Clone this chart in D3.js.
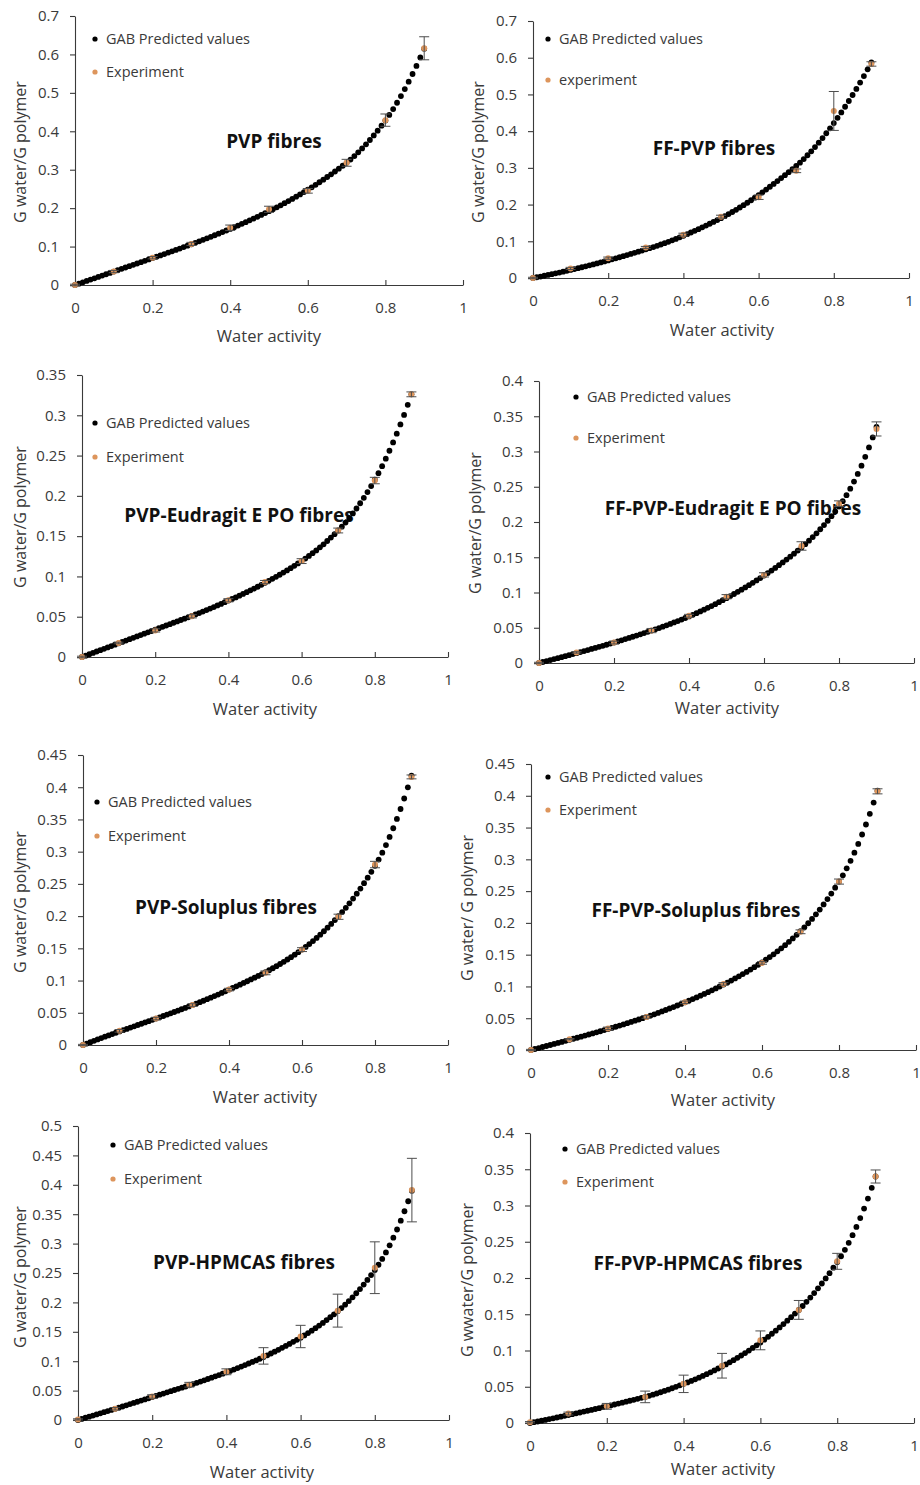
<!DOCTYPE html>
<html><head><meta charset="utf-8">
<script src="https://cdn.jsdelivr.net/npm/d3@7"></script>
<style>
body{margin:0;background:#fff}
svg{display:block}
text{font-family:"Open Sans",sans-serif}
</style>
</head><body>
<svg id="chart" width="920" height="1485"></svg>
<script>
// ---------- DATA ----------
const awGrid = [0,0.01,0.02,0.03,0.04,0.05,0.06,0.07,0.08,0.09,
0.1,0.11,0.12,0.13,0.14,0.15,0.16,0.17,0.18,0.19,
0.2,0.21,0.22,0.23,0.24,0.25,0.26,0.27,0.28,0.29,
0.3,0.31,0.32,0.33,0.34,0.35,0.36,0.37,0.38,0.39,
0.4,0.41,0.42,0.43,0.44,0.45,0.46,0.47,0.48,0.49,
0.5,0.51,0.52,0.53,0.54,0.55,0.56,0.57,0.58,0.59,
0.6,0.61,0.62,0.63,0.64,0.65,0.66,0.67,0.68,0.69,
0.7,0.71,0.72,0.73,0.74,0.75,0.76,0.77,0.78,0.79,
0.8,0.81,0.82,0.83,0.84,0.85,0.86,0.87,0.88,0.89,
0.9];
const awExp = [0,0.1,0.2,0.3,0.4,0.5,0.6,0.7,0.8,0.9];

const xTicks = [0,0.2,0.4,0.6,0.8,1];

// PVP fibres
const pvpPred = [0,0.0035,0.007,0.0105,0.014,0.0175,0.021,0.0245,0.028,0.0315,
0.035,0.0385,0.042,0.0455,0.049,0.0525,0.056,0.0595,0.063,0.0665,
0.070,0.0735,0.077,0.0805,0.0841,0.0877,0.0913,0.0949,0.0986,0.1023,
0.106,0.1098,0.1136,0.1175,0.1214,0.1254,0.1294,0.1335,0.1376,0.1418,
0.146,0.1503,0.1547,0.1591,0.1636,0.1682,0.1728,0.1775,0.1823,0.1871,
0.192,0.197,0.2021,0.2074,0.2128,0.2183,0.224,0.2298,0.2357,0.2418,
0.248,0.2543,0.2608,0.2674,0.2741,0.2811,0.2881,0.2954,0.3028,0.3103,
0.318,0.3265,0.3356,0.3452,0.3553,0.3661,0.3773,0.3892,0.4015,0.4145,
0.428,0.4425,0.4579,0.4743,0.4916,0.5098,0.529,0.5491,0.5701,0.5921,
0.615];
const pvpExp = [0,0.035,0.071,0.107,0.149,0.197,0.245,0.318,0.429,0.616];
const pvpErr = [0.002,0.003,0.003,0.004,0.007,0.008,0.006,0.009,0.016,0.03];
const pvpTicks = [0,0.1,0.2,0.3,0.4,0.5,0.6,0.7];

// FF-PVP fibres
const ffPvpPred = [0,0.002,0.004,0.0061,0.0083,0.0104,0.0127,0.0149,0.0172,0.0196,
0.022,0.0244,0.0268,0.0293,0.0319,0.0344,0.0371,0.0397,0.0424,0.0452,
0.048,0.0508,0.0536,0.0565,0.0595,0.0624,0.0655,0.0685,0.0716,0.0748,
0.078,0.0811,0.0843,0.0877,0.0912,0.0948,0.0986,0.1025,0.1065,0.1107,
0.115,0.1194,0.1239,0.1285,0.1331,0.1379,0.1427,0.1477,0.1527,0.1578,
0.163,0.1684,0.174,0.1798,0.1858,0.192,0.1984,0.205,0.2118,0.2188,
0.226,0.2334,0.2409,0.2485,0.2563,0.2641,0.2721,0.2801,0.2883,0.2966,
0.305,0.3142,0.324,0.3343,0.3451,0.3566,0.3685,0.3811,0.3942,0.4078,
0.422,0.4363,0.4511,0.4664,0.4821,0.4984,0.5151,0.5324,0.5501,0.5683,
0.587];
const ffPvpExp = [0,0.026,0.054,0.083,0.118,0.167,0.220,0.292,0.455,0.583];
const ffPvpErr = [0.002,0.003,0.003,0.003,0.004,0.004,0.006,0.005,0.053,0.006];
const ffPvpTicks = [0,0.1,0.2,0.3,0.4,0.5,0.6,0.7];

// PVP-Eudragit E PO fibres
const pvpEudPred = [0,0.0017,0.0034,0.0051,0.0068,0.0085,0.0102,0.0119,0.0136,0.0153,
0.017,0.0187,0.0204,0.0221,0.0238,0.0255,0.0272,0.0289,0.0306,0.0323,
0.034,0.0357,0.0374,0.0391,0.0408,0.0425,0.0442,0.0459,0.0476,0.0493,
0.051,0.0528,0.0545,0.0564,0.0582,0.0601,0.062,0.064,0.0659,0.068,
0.070,0.072,0.074,0.0761,0.0783,0.0804,0.0827,0.0849,0.0872,0.0896,
0.092,0.0945,0.097,0.0995,0.1021,0.1048,0.1075,0.1103,0.1132,0.1161,
0.119,0.1221,0.1254,0.1288,0.1323,0.1361,0.1399,0.144,0.1482,0.1525,
0.157,0.1618,0.1669,0.1724,0.1782,0.1843,0.1908,0.1976,0.2047,0.2122,
0.220,0.2282,0.2369,0.2462,0.256,0.2663,0.2772,0.2886,0.3005,0.313,
0.326];
const pvpEudExp = [0,0.0174,0.033,0.0505,0.0704,0.093,0.119,0.157,0.219,0.326];
const pvpEudErr = [0.001,0.001,0.002,0.002,0.002,0.002,0.003,0.003,0.004,0.003];
const pvpEudTicks = [0,0.05,0.1,0.15,0.2,0.25,0.3,0.35];

// FF-PVP-Eudragit E PO fibres
const ffPvpEudPred = [0,0.0014,0.0027,0.0041,0.0055,0.0069,0.0083,0.0097,0.0111,0.0126,
0.014,0.0155,0.0169,0.0184,0.0199,0.0214,0.0229,0.0244,0.0259,0.0275,
0.029,0.0306,0.0322,0.0339,0.0355,0.0372,0.0389,0.0407,0.0424,0.0442,
0.046,0.0478,0.0496,0.0515,0.0535,0.0554,0.0575,0.0595,0.0616,0.0638,
0.066,0.0683,0.0707,0.0731,0.0756,0.0782,0.0808,0.0835,0.0863,0.0891,
0.092,0.0949,0.0979,0.1009,0.104,0.1072,0.1104,0.1137,0.1171,0.1205,
0.124,0.1275,0.1311,0.1348,0.1387,0.1426,0.1467,0.1508,0.1551,0.1595,
0.164,0.1686,0.1735,0.1786,0.184,0.1897,0.1956,0.2018,0.2083,0.215,
0.222,0.2296,0.238,0.2473,0.2573,0.2682,0.2799,0.2925,0.3058,0.32,
0.335];
const ffPvpEudExp = [0,0.015,0.029,0.046,0.067,0.094,0.125,0.166,0.226,0.332];
const ffPvpEudErr = [0.001,0.001,0.002,0.003,0.002,0.003,0.003,0.006,0.004,0.01];
const ffPvpEudTicks = [0,0.05,0.1,0.15,0.2,0.25,0.3,0.35,0.4];

// PVP-Soluplus fibres
const pvpSolPred = [0,0.0022,0.0044,0.0065,0.0087,0.0108,0.0129,0.0149,0.017,0.019,
0.021,0.023,0.025,0.027,0.029,0.031,0.033,0.035,0.037,0.039,
0.041,0.043,0.045,0.0471,0.0491,0.0512,0.0533,0.0555,0.0576,0.0598,
0.062,0.0642,0.0664,0.0687,0.0711,0.0734,0.0759,0.0783,0.0808,0.0834,
0.086,0.0885,0.091,0.0936,0.0963,0.0989,0.1017,0.1044,0.1072,0.1101,
0.113,0.116,0.1191,0.1223,0.1257,0.1291,0.1327,0.1363,0.1401,0.144,
0.148,0.1522,0.1566,0.1613,0.1661,0.1712,0.1765,0.1821,0.1878,0.1938,
0.200,0.2063,0.2129,0.2199,0.2272,0.2348,0.2428,0.2511,0.2597,0.2687,
0.278,0.2878,0.2985,0.3102,0.3228,0.3363,0.3508,0.3662,0.3825,0.3998,
0.418];
const pvpSolExp = [0,0.022,0.041,0.062,0.086,0.112,0.148,0.199,0.280,0.416];
const pvpSolErr = [0.001,0.002,0.002,0.002,0.002,0.003,0.003,0.004,0.005,0.003];
const pvpSolTicks = [0,0.05,0.1,0.15,0.2,0.25,0.3,0.35,0.4,0.45];

// FF-PVP-Soluplus fibres
const ffPvpSolPred = [0,0.0016,0.0031,0.0047,0.0063,0.0079,0.0095,0.0111,0.0127,0.0144,
0.016,0.0177,0.0193,0.021,0.0227,0.0244,0.0261,0.0278,0.0295,0.0313,
0.033,0.0348,0.0366,0.0385,0.0403,0.0422,0.0441,0.0461,0.048,0.05,
0.052,0.0541,0.0562,0.0584,0.0607,0.0629,0.0653,0.0676,0.07,0.0725,
0.075,0.0775,0.0801,0.0827,0.0854,0.0882,0.091,0.0939,0.0969,0.0999,
0.103,0.1061,0.1093,0.1126,0.1159,0.1194,0.1229,0.1266,0.1303,0.1341,
0.138,0.142,0.1462,0.1506,0.1552,0.16,0.165,0.1702,0.1756,0.1812,
0.187,0.193,0.1994,0.2062,0.2134,0.221,0.229,0.2374,0.2462,0.2554,
0.265,0.2749,0.2858,0.2976,0.3105,0.3243,0.3391,0.3548,0.3716,0.3893,
0.408];
const ffPvpSolExp = [0,0.017,0.034,0.052,0.075,0.104,0.137,0.186,0.265,0.407];
const ffPvpSolErr = [0.001,0.001,0.002,0.002,0.002,0.002,0.002,0.003,0.004,0.004];
const ffPvpSolTicks = [0,0.05,0.1,0.15,0.2,0.25,0.3,0.35,0.4,0.45];

// PVP-HPMCAS fibres
const pvpHpmPred = [0,0.0019,0.0038,0.0057,0.0076,0.0095,0.0114,0.0133,0.0152,0.0171,
0.019,0.021,0.023,0.025,0.027,0.029,0.031,0.033,0.035,0.037,
0.039,0.041,0.043,0.045,0.047,0.049,0.051,0.053,0.055,0.057,
0.059,0.0611,0.0632,0.0654,0.0675,0.0697,0.0719,0.0742,0.0764,0.0787,
0.081,0.0834,0.0858,0.0883,0.0909,0.0934,0.0961,0.0987,0.1014,0.1042,
0.107,0.11,0.1131,0.1162,0.1194,0.1227,0.126,0.1294,0.1329,0.1364,
0.140,0.1438,0.1478,0.1519,0.1561,0.1606,0.1651,0.1699,0.1748,0.1798,
0.185,0.1904,0.1962,0.2023,0.2087,0.2156,0.2227,0.2303,0.2382,0.2464,
0.255,0.264,0.274,0.285,0.297,0.31,0.324,0.339,0.355,0.372,
0.390];
const pvpHpmExp = [0.001,0.019,0.040,0.060,0.082,0.109,0.142,0.186,0.259,0.391];
const pvpHpmErr = [0.001,0.002,0.003,0.004,0.005,0.014,0.019,0.028,0.044,0.054];
const pvpHpmTicks = [0,0.05,0.1,0.15,0.2,0.25,0.3,0.35,0.4,0.45,0.5];

// FF-PVP-HPMCAS fibres
const ffPvpHpmPred = [0,0.0011,0.0021,0.0032,0.0043,0.0054,0.0065,0.0076,0.0087,0.0099,
0.011,0.0122,0.0133,0.0145,0.0157,0.0169,0.0181,0.0193,0.0205,0.0218,
0.023,0.0243,0.0255,0.0268,0.0281,0.0294,0.0307,0.032,0.0333,0.0347,
0.036,0.0375,0.0391,0.0407,0.0424,0.0442,0.046,0.0479,0.0499,0.0519,
0.054,0.056,0.0581,0.0603,0.0625,0.0649,0.0673,0.0699,0.0725,0.0752,
0.078,0.0808,0.0837,0.0867,0.0899,0.0931,0.0965,0.0999,0.1035,0.1072,
0.111,0.1149,0.1189,0.1231,0.1274,0.1318,0.1364,0.1411,0.1459,0.1509,
0.156,0.1614,0.1671,0.173,0.1792,0.1857,0.1924,0.1994,0.2067,0.2142,
0.222,0.23,0.2388,0.2485,0.2591,0.2704,0.2827,0.2957,0.3096,0.3244,
0.340];
const ffPvpHpmExp = [0.001,0.013,0.023,0.036,0.054,0.079,0.114,0.156,0.223,0.340];
const ffPvpHpmErr = [0.001,0.002,0.004,0.008,0.012,0.017,0.013,0.013,0.011,0.009];
const ffPvpHpmTicks = [0,0.05,0.1,0.15,0.2,0.25,0.3,0.35,0.4];

// ---------- LAYOUT ----------
const panels = [
 {title:"PVP fibres", leg2:"Experiment", yLab:"G water/G polymer", pred:pvpPred, exp:pvpExp, err:pvpErr, ticks:pvpTicks,
  x0:75,x1:463,yT:16,yB:285, tx:274,ty:141, lx:95,ly1:39,ly2:72, ylx:20,yly:152, xlx:269,xly:336},
 {title:"FF-PVP fibres", leg2:"experiment", yLab:"G water/G polymer", pred:ffPvpPred, exp:ffPvpExp, err:ffPvpErr, ticks:ffPvpTicks,
  x0:533,x1:909,yT:21,yB:278, tx:714,ty:148, lx:548,ly1:39,ly2:80, ylx:478,yly:152, xlx:722,xly:330},
 {title:"PVP-Eudragit E PO fibres", leg2:"Experiment", yLab:"G water/G polymer", pred:pvpEudPred, exp:pvpEudExp, err:pvpEudErr, ticks:pvpEudTicks,
  x0:82,x1:448,yT:375,yB:657, tx:239,ty:515, lx:95,ly1:423,ly2:457, ylx:20,yly:517, xlx:265,xly:709},
 {title:"FF-PVP-Eudragit E PO fibres", leg2:"Experiment", yLab:"G water/G polymer", pred:ffPvpEudPred, exp:ffPvpEudExp, err:ffPvpEudErr, ticks:ffPvpEudTicks,
  x0:539,x1:914,yT:381,yB:663, tx:733,ty:508, lx:576,ly1:397,ly2:438, ylx:475,yly:523, xlx:727,xly:708},
 {title:"PVP-Soluplus fibres", leg2:"Experiment", yLab:"G water/G polymer", pred:pvpSolPred, exp:pvpSolExp, err:pvpSolErr, ticks:pvpSolTicks,
  x0:83,x1:448,yT:755,yB:1045, tx:226,ty:907, lx:97,ly1:802,ly2:836, ylx:20,yly:902, xlx:265,xly:1097},
 {title:"FF-PVP-Soluplus fibres", leg2:"Experiment", yLab:"G water/ G polymer", pred:ffPvpSolPred, exp:ffPvpSolExp, err:ffPvpSolErr, ticks:ffPvpSolTicks,
  x0:531,x1:916,yT:764,yB:1050, tx:696,ty:910, lx:548,ly1:777,ly2:810, ylx:467,yly:908, xlx:723,xly:1100},
 {title:"PVP-HPMCAS fibres", leg2:"Experiment", yLab:"G water/G polymer", pred:pvpHpmPred, exp:pvpHpmExp, err:pvpHpmErr, ticks:pvpHpmTicks,
  x0:78,x1:449,yT:1126,yB:1420, tx:244,ty:1262, lx:113,ly1:1145,ly2:1179, ylx:20,yly:1277, xlx:262,xly:1472},
 {title:"FF-PVP-HPMCAS fibres", leg2:"Experiment", yLab:"G wwater/G polymer", pred:ffPvpHpmPred, exp:ffPvpHpmExp, err:ffPvpHpmErr, ticks:ffPvpHpmTicks,
  x0:530,x1:914,yT:1133,yB:1423, tx:698,ty:1263, lx:565,ly1:1149,ly2:1182, ylx:467,yly:1280, xlx:723,xly:1469}
];

const AXIS = "#3a3a3a", TXT = "#3a3a3a", ORANGE = "#dd955c", ERRC = "#4d4d4d";
const svg = d3.select("#chart");

panels.forEach(p => {
  const g = svg.append("g");
  const x = d3.scaleLinear().domain([0,1]).range([p.x0,p.x1]);
  const yMax = p.ticks[p.ticks.length-1];
  const y = d3.scaleLinear().domain([0,yMax]).range([p.yB,p.yT]);

  // title (behind data)
  g.append("text").attr("x",p.tx).attr("y",p.ty).attr("dy","0.36em")
    .attr("text-anchor","middle").attr("font-weight",700).attr("font-size",19)
    .attr("fill","#111").text(p.title);

  // y axis
  const ya = g.append("g").attr("transform",`translate(${p.x0},0)`)
    .call(d3.axisLeft(y).tickValues(p.ticks).tickSizeInner(5).tickSizeOuter(0).tickPadding(11).tickFormat(d=>String(d)));
  // x axis
  const xa = g.append("g").attr("transform",`translate(0,${p.yB})`)
    .call(d3.axisBottom(x).tickValues(xTicks).tickSizeInner(-5).tickSizeOuter(0).tickPadding(17).tickFormat(d=>String(d)));
  [ya,xa].forEach(a=>{
    a.selectAll("path,line").attr("stroke",AXIS).attr("stroke-width",1.1);
    a.selectAll("text").attr("fill",TXT).attr("font-size",15).attr("font-family","'Open Sans',sans-serif");
  });

  // axis titles
  g.append("text").attr("x",p.xlx).attr("y",p.xly).attr("dy","0.35em").attr("text-anchor","middle")
    .attr("font-size",16.5).attr("fill",TXT).text("Water activity");
  g.append("text").attr("transform",`translate(${p.ylx},${p.yly}) rotate(-90)`).attr("dy","0.35em")
    .attr("text-anchor","middle").attr("font-size",16).attr("fill",TXT).text(p.yLab);

  // legend
  g.append("circle").attr("cx",p.lx).attr("cy",p.ly1).attr("r",2.6).attr("fill","#000");
  g.append("text").attr("x",p.lx+11).attr("y",p.ly1).attr("dy","0.35em").attr("font-size",14.5).attr("fill",TXT).text("GAB Predicted values");
  g.append("circle").attr("cx",p.lx).attr("cy",p.ly2).attr("r",2.6).attr("fill",ORANGE);
  g.append("text").attr("x",p.lx+11).attr("y",p.ly2).attr("dy","0.35em").attr("font-size",14.5).attr("fill",TXT).text(p.leg2);

  // predicted
  g.append("g").selectAll("circle").data(p.pred).join("circle")
    .attr("cx",(d,i)=>x(awGrid[i])).attr("cy",d=>y(d)).attr("r",2.9).attr("fill","#000");

  // experiment
  const ex = awExp.map((a,i)=>({a, v:p.exp[i], e:p.err[i]}));
  g.append("g").selectAll("circle").data(ex).join("circle")
    .attr("cx",d=>x(d.a)).attr("cy",d=>y(d.v)).attr("r",3).attr("fill",ORANGE);
  const eb = g.append("g").attr("stroke",ERRC).attr("stroke-width",1);
  ex.forEach(d=>{
    eb.append("line").attr("x1",x(d.a)).attr("x2",x(d.a)).attr("y1",y(d.v+d.e)).attr("y2",y(d.v-d.e));
    eb.append("line").attr("x1",x(d.a)-5).attr("x2",x(d.a)+5).attr("y1",y(d.v+d.e)).attr("y2",y(d.v+d.e));
    eb.append("line").attr("x1",x(d.a)-5).attr("x2",x(d.a)+5).attr("y1",y(d.v-d.e)).attr("y2",y(d.v-d.e));
  });
});
</script>
</body></html>
